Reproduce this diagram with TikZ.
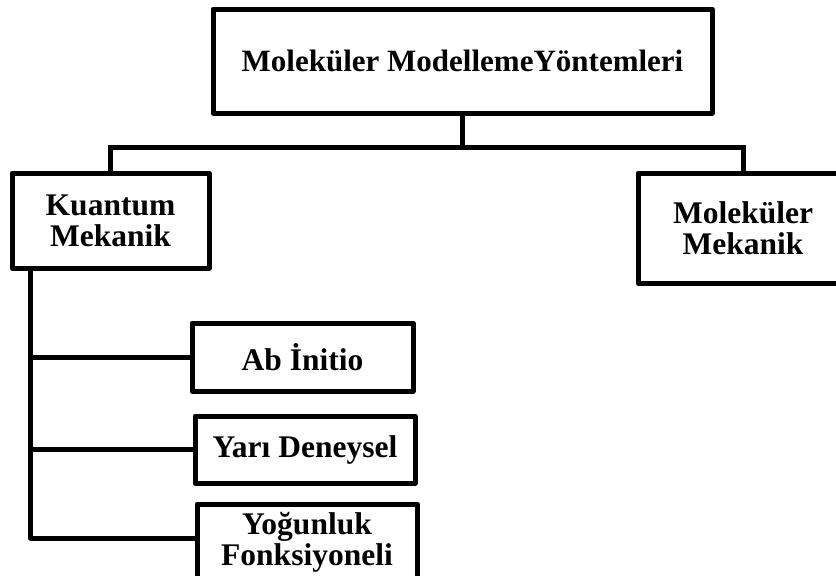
\documentclass[tikz,border=0pt]{standalone}
\usepackage{fontspec}
\setmainfont{Liberation Serif}
\begin{document}
\begin{tikzpicture}[x=1pt,y=1pt,
  box/.style={draw=black,line width=5pt,line join=round,fill=white,inner sep=0pt,align=center,font=\bfseries\fontsize{31.5}{31}\selectfont},
  conn/.style={draw=black,line width=5pt}]
\useasboundingbox (0,0) rectangle (836,-576);
\node[box,minimum width=499pt,minimum height=104pt,font=\bfseries\fontsize{31}{33}\selectfont] (top) at (462.5,-61) {Moleküler ModellemeYöntemleri};
\node[box,minimum width=197pt,minimum height=95pt] (kq) at (110.5,-220.5) {Kuantum\\Mekanik};
\node[box,minimum width=210pt,minimum height=110pt] (mm) at (743,-228) {Moleküler\\Mekanik};
\node[box,minimum width=221pt,minimum height=68pt] (ab) at (302.5,-357) {Ab İnitio};
\node[box,minimum width=220pt,minimum height=67pt] (yd) at (305,-449.5) {Yarı Deneysel};
\node[box,minimum width=220pt,minimum height=76pt] (yog) at (307,-542) {Yoğunluk\\Fonksiyoneli};
\coordinate (bus) at (462.5,-147);
\coordinate (spine) at ([xshift=21pt]kq.south west);
\draw[conn] (top.south) -- (bus);
\draw[conn] (kq.north) |- (bus) -| (mm.north);
\draw[conn,line join=round] (spine) |- ([yshift=4pt]yog.west);
\draw[conn] (spine |- ab.west) -- (ab.west);
\draw[conn] (spine |- yd.west) -- (yd.west);
\end{tikzpicture}
\end{document}
